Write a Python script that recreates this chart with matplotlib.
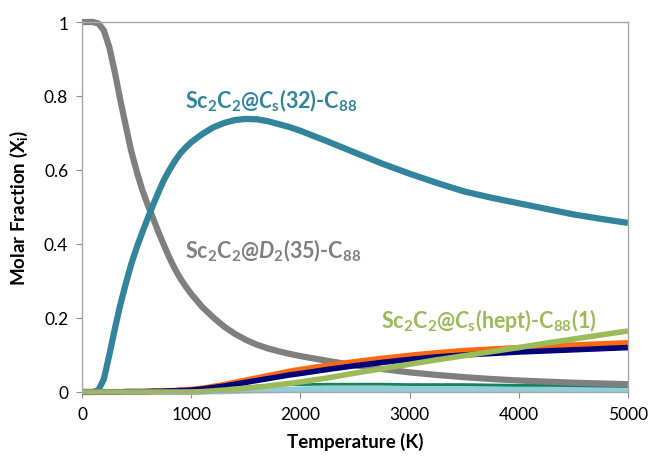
#温度に対するモル分率の変化をプロット
import matplotlib
matplotlib.use('Agg')
import matplotlib.pyplot as plt

plt.rcParams['font.family'] = ['Lato', 'DejaVu Sans']
plt.rcParams['mathtext.fontset'] = 'custom'
plt.rcParams['mathtext.rm'] = 'Lato:bold'
plt.rcParams['mathtext.it'] = 'Lato:bold:italic'
plt.rcParams['mathtext.bf'] = 'Lato:bold'

#温度 (K)
temp = [0, 100, 150, 200, 250, 300, 350, 400, 450, 500, 550, 600, 650, 700,
        750, 800, 850, 900, 950, 1000, 1100, 1200, 1300, 1400, 1500, 1600,
        1700, 1800, 1900, 2000, 2250, 2500, 2750, 3000, 3250, 3500, 3750,
        4000, 4250, 4500, 4750, 5000]

#各異性体のモル分率
d2_35 = [1.0, 1.0, 0.996, 0.977, 0.932, 0.865, 0.79, 0.72, 0.652, 0.597, 0.548,
         0.507, 0.47, 0.432, 0.397, 0.363, 0.333, 0.307, 0.285, 0.265, 0.23,
         0.202, 0.177, 0.157, 0.141, 0.128, 0.118, 0.11, 0.103, 0.097, 0.084,
         0.072, 0.062, 0.053, 0.046, 0.04, 0.035, 0.031, 0.028, 0.025, 0.023,
         0.021]
cs_32 = [0.0, 0.0, 0.005, 0.035, 0.1, 0.17, 0.235, 0.292, 0.345, 0.39, 0.43,
         0.468, 0.505, 0.54, 0.573, 0.6, 0.624, 0.645, 0.661, 0.675, 0.697,
         0.715, 0.727, 0.735, 0.738, 0.737, 0.732, 0.724, 0.716, 0.706, 0.677,
         0.647, 0.617, 0.59, 0.565, 0.542, 0.525, 0.51, 0.495, 0.48, 0.468,
         0.457]
cs_hept = [0.0, 0.0, 0.0, 0.0, 0.0, 0.0, 0.0, 0.0, 0.0, 0.0, 0.0, 0.0, 0.0,
           0.0, 0.0, 0.0, 0.0, 0.0, 0.0, 0.0, 0.001, 0.003, 0.005, 0.008,
           0.01, 0.013, 0.016, 0.02, 0.023, 0.027, 0.038, 0.051, 0.063, 0.075,
           0.087, 0.098, 0.109, 0.12, 0.132, 0.143, 0.154, 0.165]
orange = [0.0, 0.0, 0.0, 0.0, 0.0, 0.0, 0.0, 0.001, 0.001, 0.001, 0.001,
          0.002, 0.002, 0.002, 0.003, 0.003, 0.004, 0.005, 0.006, 0.007,
          0.01, 0.015, 0.02, 0.026, 0.032, 0.038, 0.044, 0.05, 0.056, 0.061,
          0.072, 0.082, 0.091, 0.099, 0.106, 0.112, 0.116, 0.12, 0.124, 0.127,
          0.13, 0.133]
navy = [0.0, 0.0, 0.0, 0.0, 0.0, 0.0, 0.0, 0.001, 0.001, 0.001, 0.001, 0.001,
        0.002, 0.002, 0.002, 0.003, 0.003, 0.004, 0.004, 0.005, 0.008, 0.012,
        0.016, 0.021, 0.026, 0.031, 0.036, 0.041, 0.046, 0.05, 0.061, 0.071,
        0.08, 0.088, 0.095, 0.1, 0.104, 0.108, 0.111, 0.114, 0.117, 0.12]
dkgreen = [0.0, 0.0, 0.0, 0.0, 0.0, 0.0, 0.0, 0.0, 0.0, 0.0, 0.0, 0.0, 0.0,
           0.0, 0.001, 0.001, 0.001, 0.002, 0.002, 0.003, 0.005, 0.007, 0.009,
           0.012, 0.014, 0.016, 0.018, 0.019, 0.02, 0.02, 0.021, 0.021, 0.021,
           0.02, 0.02, 0.02, 0.019, 0.018, 0.018, 0.017, 0.016, 0.015]
ltblue = [0.0, 0.0, 0.0, 0.0, 0.0, 0.0, 0.0, 0.0, 0.0, 0.0, 0.0, 0.0, 0.0,
          0.0, 0.0, 0.0, 0.0, 0.0, 0.0, 0.001, 0.001, 0.002, 0.002, 0.003,
          0.004, 0.005, 0.005, 0.006, 0.006, 0.007, 0.008, 0.008, 0.008,
          0.008, 0.008, 0.008, 0.008, 0.008, 0.008, 0.008, 0.008, 0.008]

fig = plt.figure(figsize=(6.49, 4.60), dpi=100)
ax = fig.add_axes([0.1264, 0.1457, 0.8412, 0.8043])

style = dict(solid_capstyle='butt', solid_joinstyle='round', clip_on=False)
ax.plot(temp, ltblue, color='#92CDDC', lw=4.5, **style)
ax.plot(temp, dkgreen, color='#15845A', lw=2.0, **style)
ax.plot(temp, d2_35, color='#7F7F7F', lw=4.5, **style)
ax.plot(temp, cs_32, color='#31849B', lw=4.5, **style)
ax.plot(temp, orange, color='#FF6A10', lw=4.0, **style)
ax.plot(temp, navy, color='#00007A', lw=4.0, **style)
ax.plot(temp, cs_hept, color='#9BBB59', lw=4.0, **style)

#ラベル
ax.text(940, 0.79, r'Sc$_2$C$_2$@$\mathit{C}_\mathrm{s}$(32)-C$_{88}$',
        color='#31849B', fontsize=15.5, fontweight='bold', va='center')
ax.text(940, 0.385, r'Sc$_2$C$_2$@$\mathit{D}_2$(35)-C$_{88}$',
        color='#7F7F7F', fontsize=15.5, fontweight='bold', va='center')
ax.text(2740, 0.197, r'Sc$_2$C$_2$@$\mathit{C}_\mathrm{s}$(hept)-C$_{88}$(1)',
        color='#9BBB59', fontsize=15.5, fontweight='bold', va='center')

ax.set_xlim(0, 5000)
ax.set_ylim(0, 1)
ax.set_xticks([0, 1000, 2000, 3000, 4000, 5000])
ax.set_yticks([0, 0.2, 0.4, 0.6, 0.8, 1])
ax.set_yticklabels(['0', '0.2', '0.4', '0.6', '0.8', '1'])
ax.tick_params(direction='out', length=4, color='#8C8C8C', labelsize=12.5,
               labelcolor='#000000', pad=6)
for s in ax.spines.values():
    s.set_color('#A6A6A6')
    s.set_linewidth(1.0)

ax.set_xlabel('Temperature (K)', fontsize=13.5, fontweight='bold', labelpad=7)
ax.set_ylabel(r'Molar Fraction (X$_\mathrm{i}$)', fontsize=13.5,
              fontweight='bold', labelpad=10)

fig.savefig('out.png', dpi=100)
